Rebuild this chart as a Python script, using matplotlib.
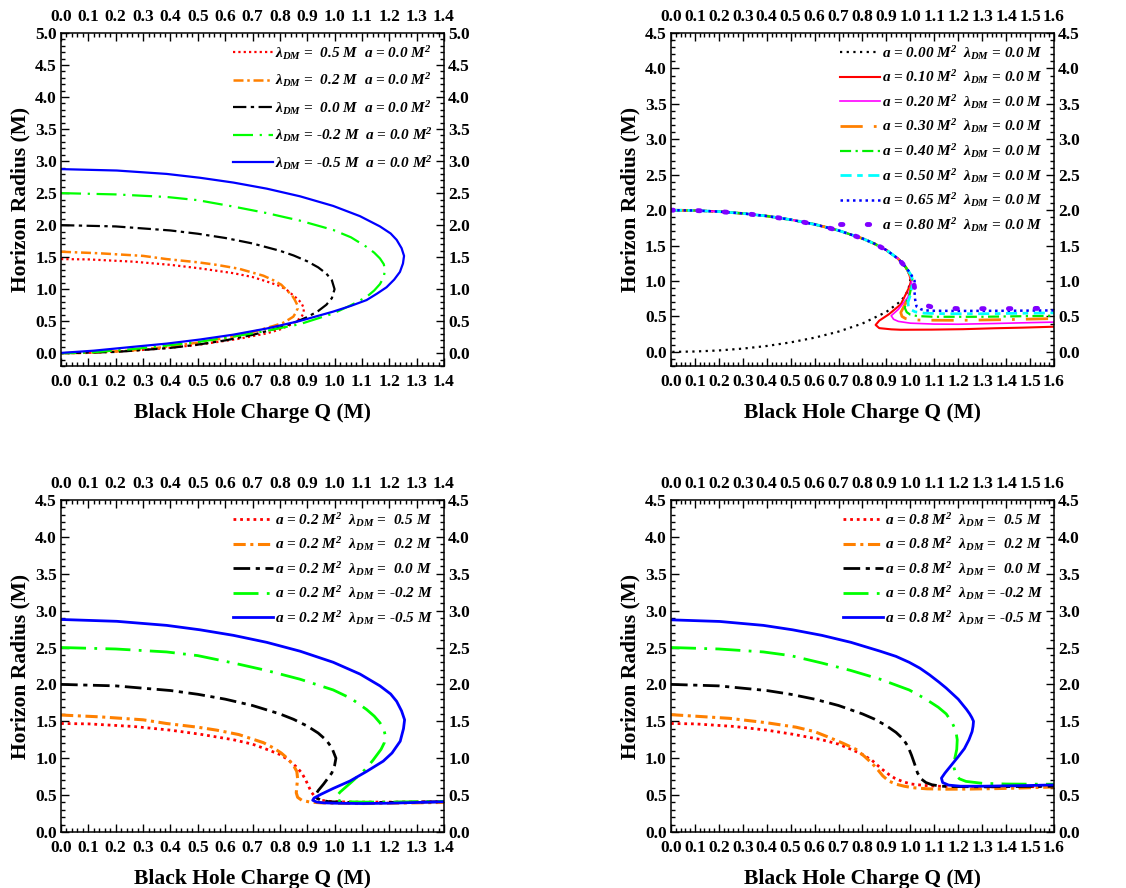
import matplotlib
matplotlib.use("Agg")
import matplotlib.pyplot as plt
from matplotlib.ticker import MultipleLocator

plt.rcParams["font.family"] = ["Liberation Serif", "DejaVu Serif"]
plt.rcParams["font.weight"] = "bold"
plt.rcParams["mathtext.fontset"] = "custom"
plt.rcParams["mathtext.it"] = "Liberation Serif:italic:bold"
plt.rcParams["mathtext.rm"] = "Liberation Serif:italic:bold"
plt.rcParams["mathtext.bf"] = "Liberation Serif:italic:bold"

# ---------------- panel 1: a = 0, lambda varies ----------------
p1_red_q = [0.0, 0.1, 0.264, 0.4, 0.508, 0.63, 0.7, 0.752, 0.8, 0.825, 0.861, 0.878, 0.888,
            0.886, 0.878, 0.86, 0.837, 0.8, 0.752, 0.65, 0.508, 0.4, 0.264, 0.1, 0.0]
p1_red_r = [1.47, 1.465, 1.43, 1.38, 1.325, 1.25, 1.19, 1.12, 1.05, 0.99, 0.86, 0.79, 0.70,
            0.62, 0.56, 0.50, 0.44, 0.37, 0.31, 0.225, 0.135, 0.085, 0.04, 0.006, 0.0]
p1_org_q = [0.0, 0.143, 0.3, 0.386, 0.5, 0.569, 0.65, 0.691, 0.74, 0.776, 0.805, 0.825, 0.845,
            0.855, 0.863, 0.865, 0.858, 0.849, 0.83, 0.812, 0.78, 0.752, 0.7, 0.63, 0.5, 0.386,
            0.25, 0.1, 0.0]
p1_org_r = [1.585, 1.56, 1.52, 1.47, 1.42, 1.38, 1.32, 1.27, 1.21, 1.14, 1.07, 0.985, 0.9,
            0.83, 0.76, 0.70, 0.63, 0.57, 0.52, 0.475, 0.43, 0.395, 0.33, 0.26, 0.165, 0.10,
            0.04, 0.006, 0.0]
p1_blk_q = [0.0, 0.2, 0.4, 0.5, 0.6, 0.7, 0.8, 0.85, 0.9, 0.94, 0.97, 0.99, 1.0,
            0.99, 0.97, 0.94, 0.9, 0.85, 0.8, 0.7, 0.6, 0.5, 0.4, 0.2, 0.0]
p1_blk_r = [2.0, 1.98, 1.917, 1.866, 1.80, 1.714, 1.60, 1.527, 1.436, 1.341, 1.243, 1.141, 1.0,
            0.859, 0.757, 0.659, 0.564, 0.473, 0.40, 0.286, 0.20, 0.134, 0.083, 0.02, 0.0]
p1_grn_q = [0.0, 0.2, 0.386, 0.5, 0.63, 0.75, 0.874, 0.995, 1.06, 1.117, 1.145, 1.166, 1.18,
            1.184, 1.18, 1.166, 1.145, 1.117, 1.06, 0.995, 0.874, 0.752, 0.63, 0.508, 0.386,
            0.264, 0.1, 0.0]
p1_grn_r = [2.50, 2.48, 2.44, 2.39, 2.29, 2.19, 2.07, 1.925, 1.81, 1.66, 1.57, 1.48, 1.39,
            1.30, 1.19, 1.08, 0.98, 0.88, 0.75, 0.62, 0.455, 0.35, 0.26, 0.18, 0.12,
            0.065, 0.01, 0.0]
p1_blu_q = [0.0, 0.204, 0.386, 0.508, 0.63, 0.752, 0.874, 0.995, 1.093, 1.166, 1.205, 1.227,
            1.245, 1.254, 1.25, 1.239, 1.218, 1.19, 1.155, 1.117, 1.06, 0.995, 0.874, 0.752,
            0.63, 0.508, 0.386, 0.264, 0.12, 0.0]
p1_blu_r = [2.875, 2.853, 2.80, 2.74, 2.665, 2.57, 2.45, 2.30, 2.14, 1.98, 1.87, 1.77,
            1.64, 1.52, 1.40, 1.27, 1.15, 1.03, 0.93, 0.83, 0.74, 0.65, 0.505, 0.386,
            0.29, 0.214, 0.15, 0.10, 0.04, 0.005]
p1_labels = [r"$\lambda_{DM}$ =  0.5 M  a = 0.0 M$^{2}$",
             r"$\lambda_{DM}$ =  0.2 M  a = 0.0 M$^{2}$",
             r"$\lambda_{DM}$ =  0.0 M  a = 0.0 M$^{2}$",
             r"$\lambda_{DM}$ = -0.2 M  a = 0.0 M$^{2}$",
             r"$\lambda_{DM}$ = -0.5 M  a = 0.0 M$^{2}$"]

# ---------------- panel 2: lambda = 0, a varies ----------------
p2_top_q = [0.0, 0.1, 0.2, 0.3, 0.4, 0.5, 0.6, 0.7, 0.8, 0.85, 0.9, 0.95, 0.98]
p2_top_r = [2.0, 1.995, 1.98, 1.954, 1.917, 1.866, 1.80, 1.714, 1.60, 1.527, 1.436, 1.312, 1.199]
p2_a000_q = [0.995, 1.0, 0.99, 0.97, 0.95, 0.9, 0.8, 0.7, 0.6, 0.5, 0.4, 0.3, 0.2, 0.1, 0.0]
p2_a000_r = [1.10, 1.0, 0.86, 0.757, 0.69, 0.564, 0.40, 0.286, 0.20, 0.134, 0.083, 0.046,
             0.02, 0.005, 0.0]
p2_a010_q = [0.995, 1.003, 0.995, 0.96, 0.91, 0.87, 0.855, 0.87, 0.92, 0.96, 1.09, 1.22,
             1.35, 1.47, 1.6]
p2_a010_r = [1.10, 1.0, 0.91, 0.67, 0.53, 0.44, 0.38, 0.335, 0.318, 0.312, 0.314, 0.32,
             0.333, 0.342, 0.355]
p2_a020_q = [0.997, 1.006, 0.99, 0.95, 0.92, 0.93, 0.95, 1.0, 1.1, 1.2, 1.35, 1.47, 1.6]
p2_a020_r = [1.10, 1.0, 0.77, 0.60, 0.51, 0.46, 0.43, 0.405, 0.392, 0.39, 0.40, 0.41, 0.42]
p2_a030_q = [0.998, 1.008, 0.99, 0.97, 0.96, 0.965, 0.98, 1.0, 1.05, 1.2, 1.4, 1.6]
p2_a030_r = [1.10, 1.0, 0.75, 0.62, 0.555, 0.50, 0.47, 0.455, 0.447, 0.445, 0.455, 0.47]
p2_a040_q = [0.999, 1.01, 0.995, 0.98, 0.977, 0.985, 1.0, 1.03, 1.1, 1.3, 1.6]
p2_a040_r = [1.10, 1.0, 0.78, 0.68, 0.62, 0.56, 0.525, 0.505, 0.495, 0.495, 0.51]
p2_a050_q = [1.0, 1.012, 1.0, 0.99, 0.992, 1.0, 1.02, 1.06, 1.15, 1.3, 1.6]
p2_a050_r = [1.10, 1.0, 0.80, 0.70, 0.64, 0.60, 0.565, 0.545, 0.538, 0.538, 0.55]
p2_a065_q = [1.002, 1.018, 1.016, 1.02, 1.026, 1.045, 1.065, 1.1, 1.2, 1.4, 1.6]
p2_a065_r = [1.10, 1.0, 0.91, 0.74, 0.64, 0.60, 0.585, 0.58, 0.578, 0.58, 0.585]
p2_a080_q = [1.004, 1.013, 1.02, 1.029, 1.05, 1.071, 1.1, 1.2, 1.4, 1.6]
p2_a080_r = [1.10, 1.0, 0.86, 0.79, 0.70, 0.65, 0.625, 0.61, 0.61, 0.615]
p2_labels = [r"a = 0.00 M$^{2}$  $\lambda_{DM}$ = 0.0 M",
             r"a = 0.10 M$^{2}$  $\lambda_{DM}$ = 0.0 M",
             r"a = 0.20 M$^{2}$  $\lambda_{DM}$ = 0.0 M",
             r"a = 0.30 M$^{2}$  $\lambda_{DM}$ = 0.0 M",
             r"a = 0.40 M$^{2}$  $\lambda_{DM}$ = 0.0 M",
             r"a = 0.50 M$^{2}$  $\lambda_{DM}$ = 0.0 M",
             r"a = 0.65 M$^{2}$  $\lambda_{DM}$ = 0.0 M",
             r"a = 0.80 M$^{2}$  $\lambda_{DM}$ = 0.0 M"]

# ---------------- panel 3: a = 0.2, lambda varies ----------------
p3_red_q = [0.0, 0.1, 0.264, 0.4, 0.508, 0.63, 0.7, 0.752, 0.8, 0.83, 0.861, 0.88, 0.895,
            0.905, 0.915, 0.93, 0.95, 0.98, 1.05, 1.2, 1.4]
p3_red_r = [1.47, 1.465, 1.43, 1.38, 1.325, 1.25, 1.19, 1.12, 1.05, 0.98, 0.88, 0.80, 0.70,
            0.62, 0.54, 0.47, 0.43, 0.415, 0.405, 0.405, 0.41]
p3_org_q = [0.0, 0.143, 0.3, 0.386, 0.5, 0.569, 0.65, 0.691, 0.74, 0.776, 0.805, 0.83, 0.85,
            0.862, 0.865, 0.862, 0.86, 0.865, 0.88, 0.91, 0.95, 1.0, 1.1, 1.2, 1.3, 1.4]
p3_org_r = [1.585, 1.56, 1.52, 1.47, 1.42, 1.38, 1.32, 1.27, 1.21, 1.14, 1.07, 0.99, 0.90,
            0.82, 0.72, 0.62, 0.53, 0.47, 0.43, 0.405, 0.395, 0.39, 0.385, 0.39, 0.395, 0.40]
p3_blk_q = [0.0, 0.2, 0.4, 0.5, 0.6, 0.7, 0.8, 0.85, 0.9, 0.94, 0.97, 0.99, 1.005, 1.0, 0.99,
            0.96, 0.94, 0.93, 0.935, 0.95, 0.98, 1.05, 1.2, 1.4]
p3_blk_r = [2.0, 1.98, 1.917, 1.866, 1.80, 1.714, 1.60, 1.527, 1.436, 1.341, 1.243, 1.141, 1.0,
            0.90, 0.80, 0.65, 0.56, 0.50, 0.46, 0.43, 0.41, 0.40, 0.40, 0.41]
p3_grn_q = [0.0, 0.2, 0.386, 0.5, 0.63, 0.75, 0.874, 0.995, 1.06, 1.117, 1.145, 1.166, 1.18,
            1.186, 1.182, 1.17, 1.14, 1.11, 1.06, 1.02, 1.005, 1.008, 1.02, 1.04, 1.1, 1.2,
            1.3, 1.4]
p3_grn_r = [2.50, 2.48, 2.44, 2.39, 2.29, 2.19, 2.07, 1.925, 1.81, 1.66, 1.57, 1.48, 1.39,
            1.30, 1.21, 1.12, 0.97, 0.84, 0.67, 0.54, 0.47, 0.44, 0.42, 0.41, 0.405, 0.405,
            0.41, 0.415]
p3_blu_q = [0.0, 0.204, 0.386, 0.508, 0.63, 0.752, 0.874, 0.995, 1.093, 1.166, 1.205, 1.227,
            1.245, 1.256, 1.252, 1.24, 1.21, 1.178, 1.117, 1.056, 0.995, 0.95, 0.925, 0.92,
            0.935, 0.96, 1.0, 1.1, 1.2, 1.3, 1.4]
p3_blu_r = [2.88, 2.855, 2.80, 2.74, 2.665, 2.57, 2.45, 2.30, 2.14, 1.98, 1.87, 1.77,
            1.64, 1.52, 1.40, 1.23, 1.07, 0.96, 0.82, 0.69, 0.59, 0.51, 0.46, 0.43,
            0.405, 0.395, 0.39, 0.385, 0.39, 0.40, 0.41]
p3_labels = [r"a = 0.2 M$^{2}$  $\lambda_{DM}$ =  0.5 M",
             r"a = 0.2 M$^{2}$  $\lambda_{DM}$ =  0.2 M",
             r"a = 0.2 M$^{2}$  $\lambda_{DM}$ =  0.0 M",
             r"a = 0.2 M$^{2}$  $\lambda_{DM}$ = -0.2 M",
             r"a = 0.2 M$^{2}$  $\lambda_{DM}$ = -0.5 M"]

# ---------------- panel 4: a = 0.8, lambda varies ----------------
p4_red_q = [0.0, 0.1, 0.264, 0.4, 0.508, 0.63, 0.7, 0.76, 0.8, 0.84, 0.878, 0.91, 0.934,
            0.97, 1.004, 1.06, 1.115, 1.2, 1.3, 1.45, 1.6]
p4_red_r = [1.47, 1.465, 1.43, 1.38, 1.325, 1.25, 1.19, 1.11, 1.05, 0.97, 0.86, 0.78, 0.73,
            0.68, 0.65, 0.63, 0.62, 0.615, 0.612, 0.612, 0.615]
p4_org_q = [0.0, 0.244, 0.4, 0.523, 0.6, 0.662, 0.72, 0.773, 0.81, 0.843, 0.865, 0.885, 0.91,
            0.941, 0.975, 1.01, 1.07, 1.15, 1.25, 1.359, 1.45, 1.6]
p4_org_r = [1.59, 1.54, 1.48, 1.42, 1.36, 1.28, 1.20, 1.12, 1.02, 0.92, 0.84, 0.76, 0.69,
            0.647, 0.62, 0.60, 0.585, 0.58, 0.582, 0.588, 0.595, 0.61]
p4_blk_q = [0.0, 0.2, 0.4, 0.5, 0.6, 0.7, 0.8, 0.85, 0.9, 0.94, 0.97, 0.99, 1.005, 1.018,
            1.03, 1.045, 1.065, 1.09, 1.13, 1.2, 1.3, 1.4, 1.5, 1.6]
p4_blk_r = [2.0, 1.98, 1.917, 1.866, 1.80, 1.714, 1.60, 1.53, 1.44, 1.35, 1.26, 1.16, 1.04,
            0.92, 0.80, 0.72, 0.67, 0.64, 0.62, 0.615, 0.612, 0.615, 0.618, 0.62]
p4_grn_q = [0.0, 0.2, 0.386, 0.5, 0.63, 0.75, 0.874, 0.995, 1.06, 1.117, 1.15, 1.175, 1.19,
            1.196, 1.194, 1.186, 1.182, 1.19, 1.205, 1.233, 1.3, 1.4, 1.5, 1.6]
p4_grn_r = [2.50, 2.48, 2.44, 2.39, 2.29, 2.19, 2.07, 1.925, 1.81, 1.69, 1.60, 1.48, 1.37,
            1.25, 1.12, 1.00, 0.88, 0.78, 0.72, 0.685, 0.66, 0.65, 0.648, 0.647]
p4_blu_q = [0.0, 0.204, 0.386, 0.508, 0.63, 0.752, 0.874, 0.94, 0.995, 1.04, 1.08, 1.12,
            1.15, 1.18, 1.20, 1.22, 1.235, 1.248, 1.257, 1.264, 1.262, 1.258, 1.245, 1.226,
            1.20, 1.17, 1.145, 1.13, 1.135, 1.16, 1.21, 1.3, 1.4, 1.5, 1.6]
p4_blu_r = [2.875, 2.853, 2.80, 2.74, 2.665, 2.57, 2.45, 2.38, 2.30, 2.22, 2.13, 2.03,
            1.95, 1.86, 1.80, 1.72, 1.66, 1.60, 1.55, 1.50, 1.43, 1.36, 1.25, 1.13,
            1.02, 0.90, 0.80, 0.73, 0.67, 0.635, 0.62, 0.62, 0.625, 0.63, 0.638]
p4_labels = [r"a = 0.8 M$^{2}$  $\lambda_{DM}$ =  0.5 M",
             r"a = 0.8 M$^{2}$  $\lambda_{DM}$ =  0.2 M",
             r"a = 0.8 M$^{2}$  $\lambda_{DM}$ =  0.0 M",
             r"a = 0.8 M$^{2}$  $\lambda_{DM}$ = -0.2 M",
             r"a = 0.8 M$^{2}$  $\lambda_{DM}$ = -0.5 M"]

# line styles for the lambda panels (red, orange, black, green, blue)
LAM_STYLES = [
    dict(color="#ff0000", ls=(0, (1, 1.4)), lw=1.6),
    dict(color="#ff8000", ls=(0, (4, 1.5, 1, 1.5)), lw=1.8),
    dict(color="#000000", ls=(0, (6, 2, 1.5, 2)), lw=1.6),
    dict(color="#00ff00", ls=(0, (9, 3, 1, 3)), lw=1.6),
    dict(color="#0000ff", ls="-", lw=1.6),
]
A_STYLES = [
    dict(color="#000000", ls=(0, (1, 2)), lw=1.6),
    dict(color="#ff0000", ls="-", lw=1.5),
    dict(color="#ff00ff", ls="-", lw=1.2),
    dict(color="#ff8000", ls=(0, (8, 4, 1, 4)), lw=2.0),
    dict(color="#00ee00", ls=(0, (5, 2, 1, 2)), lw=1.6),
    dict(color="#00ffff", ls=(0, (4, 2, 2, 2)), lw=2.0),
    dict(color="#0000ff", ls=(0, (1, 1.5)), lw=1.8),
    dict(color="#8000ff", ls=(0, (0.5, 5)), lw=3.5, dash_capstyle="round"),
]


def style_axes(ax, xmax, ymin, ymax):
    ax.set_xticks([t / 10 for t in range(int(round(xmax * 10)) + 1)])
    ax.set_yticks([t / 2 for t in range(int(round(ymax * 2)) + 1)])
    ax.xaxis.set_minor_locator(MultipleLocator(0.02))
    ax.yaxis.set_minor_locator(MultipleLocator(0.1))
    ax.set_xlim(0, xmax)
    ax.set_ylim(ymin, ymax)
    ax.tick_params(which="both", direction="in", top=True, right=True,
                   labeltop=True, labelright=True, labelsize=12.5, width=1)
    ax.tick_params(axis="x", which="major", length=6, pad=6)
    ax.tick_params(axis="y", which="major", length=6, pad=3)
    ax.tick_params(which="minor", length=3)
    for lab in ax.get_xticklabels() + ax.get_yticklabels():
        lab.set_fontweight("bold")
    for sp in ax.spines.values():
        sp.set_linewidth(1.1)
    ax.set_xlabel("Black Hole Charge Q (M)", fontsize=15.5, fontweight="bold", labelpad=9)
    ax.set_ylabel("Horizon Radius (M)", fontsize=15.5, fontweight="bold", labelpad=3)


def add_legend(ax, spacing):
    leg = ax.legend(loc="upper right", frameon=False, fontsize=11, handlelength=2.6,
                    handletextpad=0.15, labelspacing=spacing, borderaxespad=0.3,
                    bbox_to_anchor=(1.0, 1.0))
    for t in leg.get_texts():
        t.set_fontstyle("italic")
        t.set_fontweight("bold")


fig = plt.figure(figsize=(11.26, 8.88), dpi=100)
ax1 = fig.add_axes([0.0542, 0.5878, 0.3401, 0.3750])
ax2 = fig.add_axes([0.5959, 0.5878, 0.3401, 0.3750])
ax3 = fig.add_axes([0.0542, 0.0631, 0.3401, 0.3739])
ax4 = fig.add_axes([0.5959, 0.0631, 0.3401, 0.3739])

# panel 1
p1_series = [(p1_red_q, p1_red_r), (p1_org_q, p1_org_r), (p1_blk_q, p1_blk_r),
             (p1_grn_q, p1_grn_r), (p1_blu_q, p1_blu_r)]
for (q, r), st, lab in zip(p1_series, LAM_STYLES, p1_labels):
    ax1.plot(q, r, label=lab, **st)
style_axes(ax1, 1.4, -0.2, 5.0)
add_legend(ax1, 0.62)

# panel 2
p2_series = [(p2_a000_q, p2_a000_r), (p2_a010_q, p2_a010_r), (p2_a020_q, p2_a020_r),
             (p2_a030_q, p2_a030_r), (p2_a040_q, p2_a040_r), (p2_a050_q, p2_a050_r),
             (p2_a065_q, p2_a065_r), (p2_a080_q, p2_a080_r)]
for (q, r), st, lab in zip(p2_series, A_STYLES, p2_labels):
    ax2.plot(p2_top_q + q, p2_top_r + r, label=lab, **st)
style_axes(ax2, 1.6, -0.2, 4.5)
add_legend(ax2, 0.43)

# panel 3
p3_series = [(p3_red_q, p3_red_r), (p3_org_q, p3_org_r), (p3_blk_q, p3_blk_r),
             (p3_grn_q, p3_grn_r), (p3_blu_q, p3_blu_r)]
for (q, r), st, lab in zip(p3_series, LAM_STYLES, p3_labels):
    st = dict(st)
    st["lw"] = st["lw"] + 0.4
    ax3.plot(q, r, label=lab, **st)
style_axes(ax3, 1.4, 0.0, 4.5)
add_legend(ax3, 0.43)

# panel 4
p4_series = [(p4_red_q, p4_red_r), (p4_org_q, p4_org_r), (p4_blk_q, p4_blk_r),
             (p4_grn_q, p4_grn_r), (p4_blu_q, p4_blu_r)]
for (q, r), st, lab in zip(p4_series, LAM_STYLES, p4_labels):
    st = dict(st)
    st["lw"] = st["lw"] + 0.4
    ax4.plot(q, r, label=lab, **st)
style_axes(ax4, 1.6, 0.0, 4.5)
add_legend(ax4, 0.43)

fig.savefig("out.png", dpi=100)
plt.close(fig)
